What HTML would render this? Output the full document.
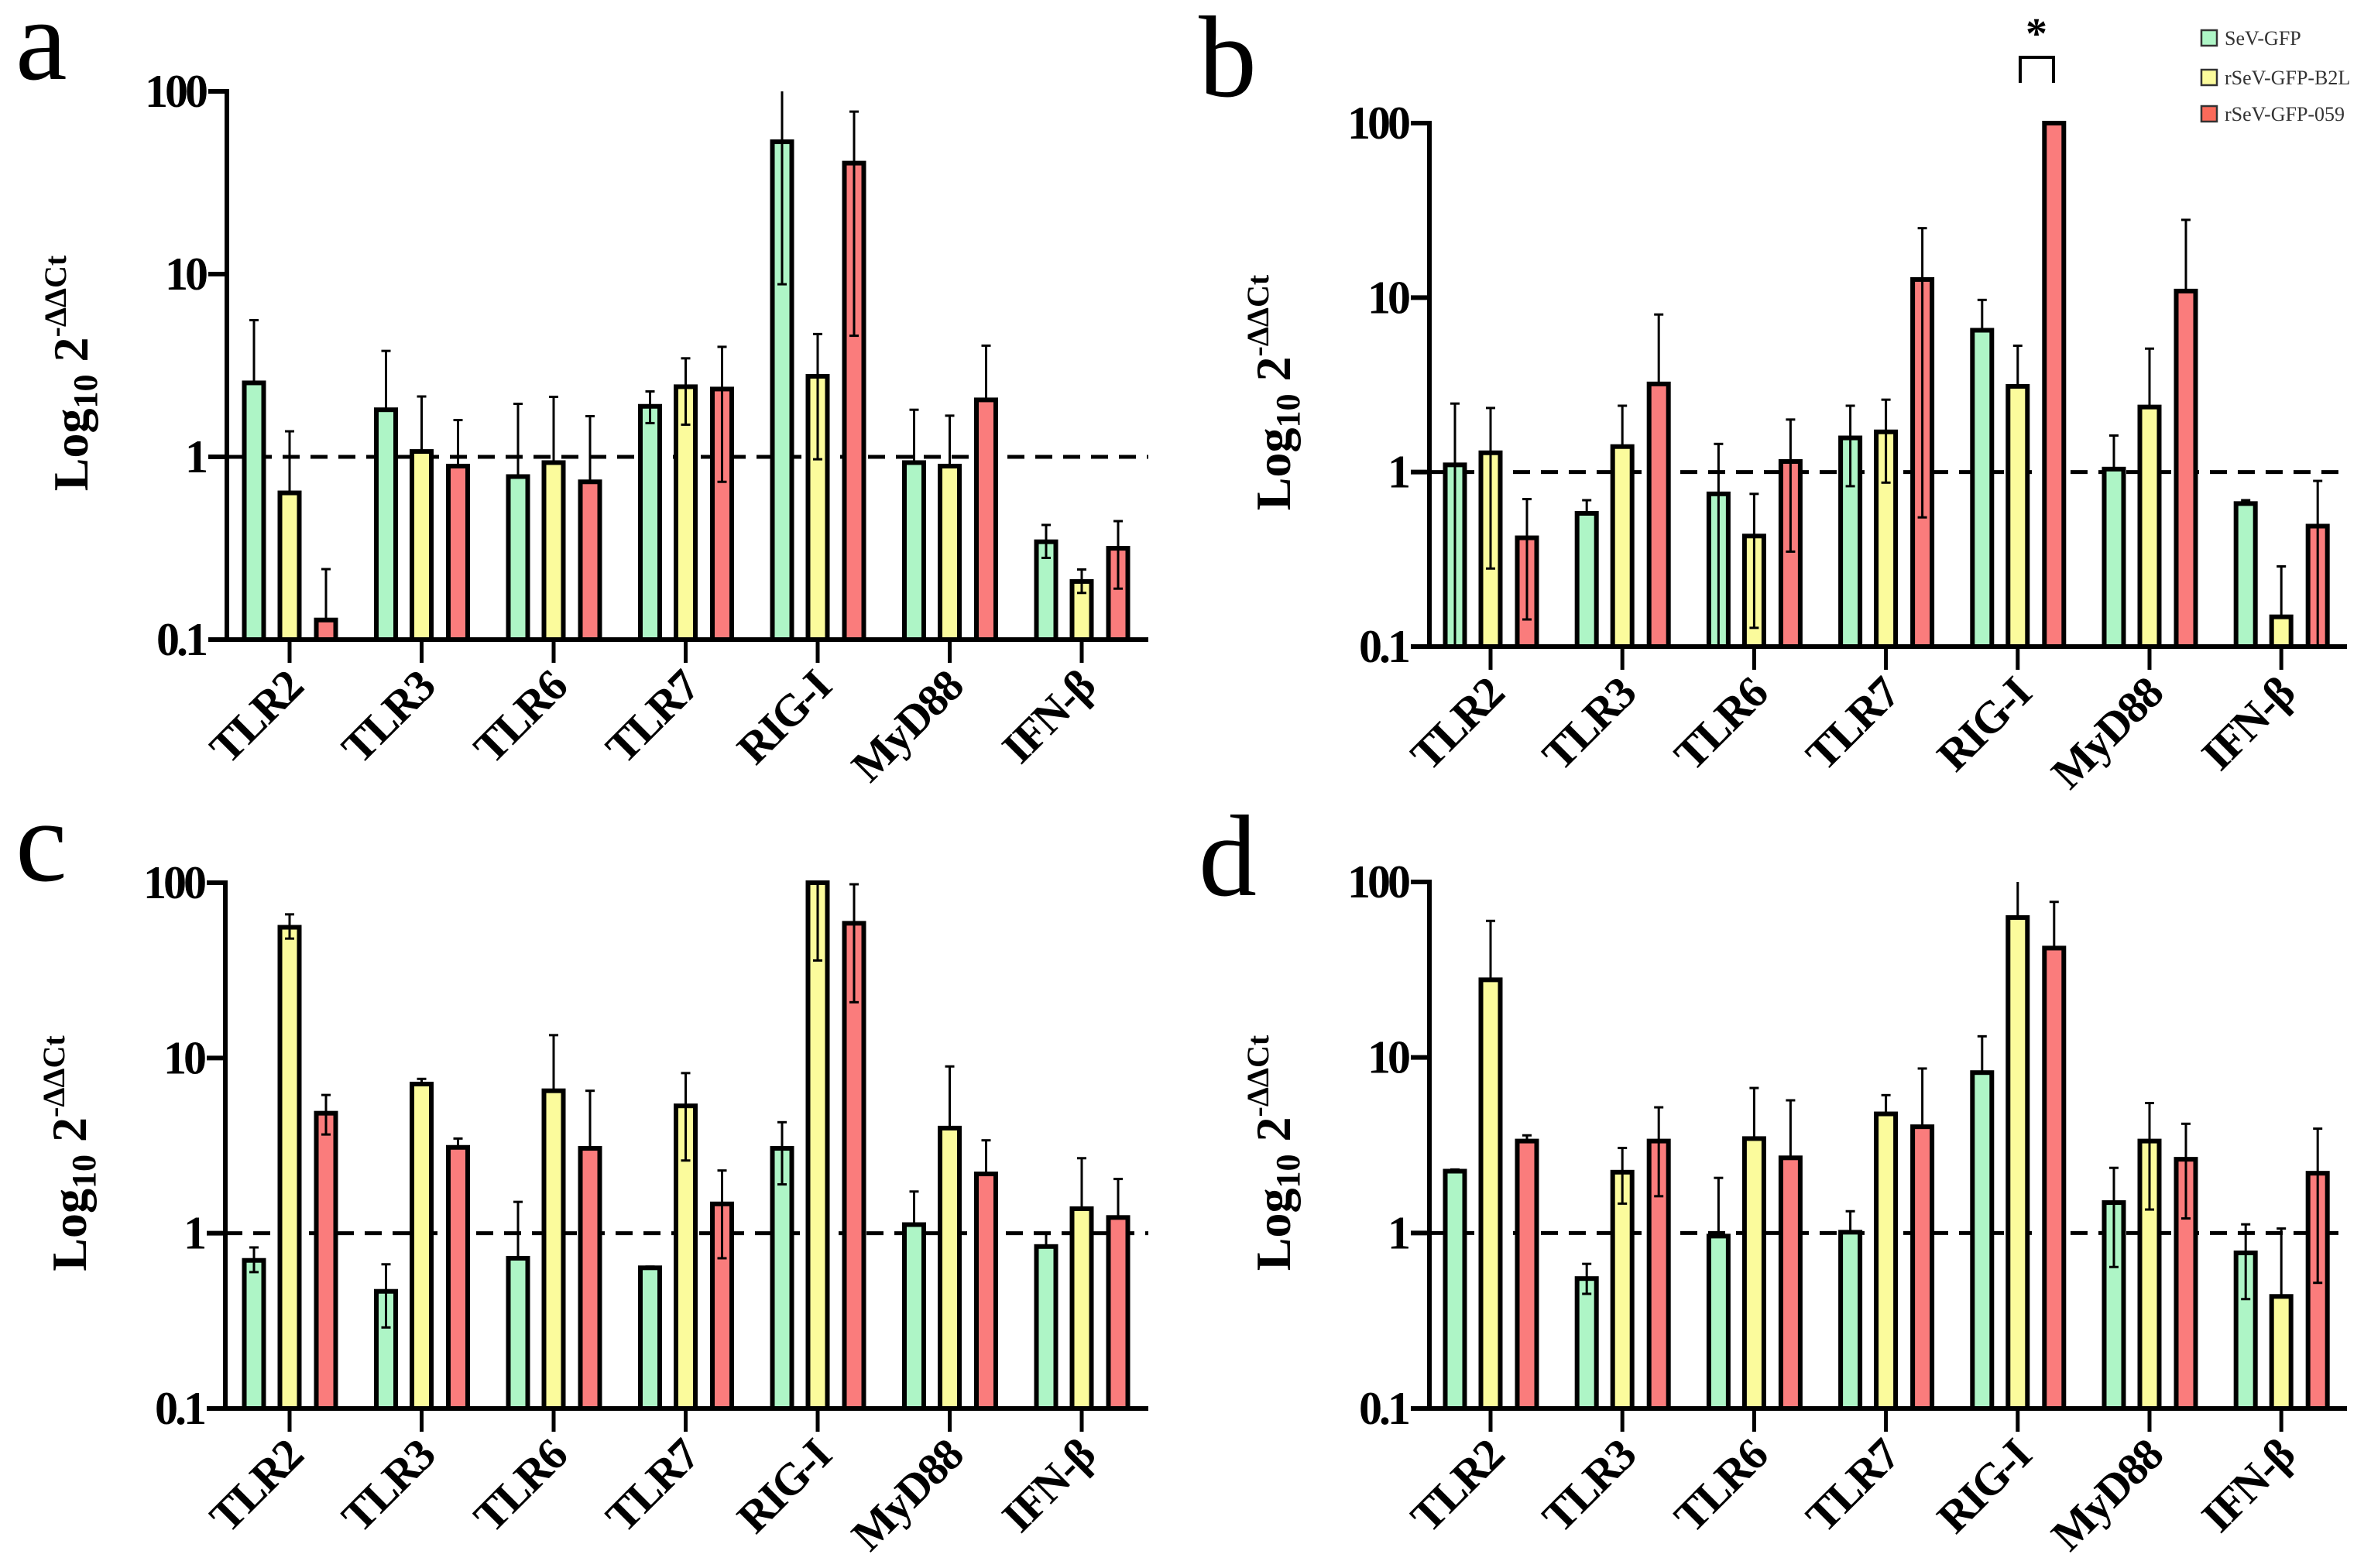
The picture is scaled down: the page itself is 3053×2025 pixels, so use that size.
<!DOCTYPE html>
<html><head><meta charset="utf-8"><style>
html,body{margin:0;padding:0;background:#fff;}
svg{display:block;}
text{font-family:"Liberation Serif","DejaVu Serif",serif;}
</style></head><body>
<svg id="fig" width="3053" height="2025" viewBox="0 0 3053 2025" xmlns="http://www.w3.org/2000/svg">
<rect x="0" y="0" width="3053" height="2025" fill="#fff"/>
<g id="legend">
  <g><rect x="2843" y="39" width="20" height="20" fill="#aef5c6" stroke="#333" stroke-width="2.5"/><text x="2873" y="58" font-size="26" fill="#333">SeV-GFP</text></g>
  <g><rect x="2843" y="90" width="20" height="20" fill="#fbfb9c" stroke="#333" stroke-width="2.5"/><text x="2873" y="109" font-size="26" fill="#333">rSeV-GFP-B2L</text></g>
  <g><rect x="2843" y="137" width="20" height="20" fill="#fa6a5a" stroke="#333" stroke-width="2.5"/><text x="2873" y="156" font-size="26" fill="#333">rSeV-GFP-059</text></g>
</g>
<g>
  <path d="M2609 107 V74 H2652 V107" fill="none" stroke="#000" stroke-width="4"/>
  <text x="2630" y="62" font-size="56" font-weight="bold" text-anchor="middle">*</text>
</g>
</svg>
<script>
const categories = ["TLR2","TLR3","TLR6","TLR7","RIG-I","MyD88","IFN-β"];
const seriesNames = ["SeV-GFP","rSeV-GFP-B2L","rSeV-GFP-059"];
const yTickValues = [0.1, 1, 10, 100];
const yTickLabels = ["0.1","1","10","100"];
const baselineValue = 1;

// Panel a (values, upper error ends, lower error ends; 0 = no lower bar)
const aGreen = [2.54, 1.81, 0.78, 1.89, 53, 0.93, 0.343];
const aGreenErr = [5.6, 3.8, 1.95, 2.28, 100, 1.81, 0.424];
const aGreenLo = [0, 0, 0, 1.53, 8.8, 0, 0.28];
const aYellow = [0.635, 1.07, 0.93, 2.42, 2.76, 0.89, 0.208];
const aYellowErr = [1.38, 2.14, 2.13, 3.46, 4.7, 1.68, 0.242];
const aYellowLo = [0, 0, 0, 1.5, 0.97, 0, 0.18];
const aRed = [0.128, 0.89, 0.73, 2.35, 40.5, 2.05, 0.316];
const aRedErr = [0.243, 1.59, 1.67, 4.0, 77.5, 4.06, 0.445];
const aRedLo = [0, 0, 0, 0.73, 4.6, 0, 0.19];
// Panel b
const bGreen = [1.10, 0.58, 0.75, 1.57, 6.5, 1.04, 0.66];
const bGreenErr = [2.47, 0.69, 1.45, 2.4, 9.7, 1.62, 0.69];
const bGreenLo = [0.1, 0, 0.1, 0.83, 0, 0, 0];
const bYellow = [1.29, 1.4, 0.43, 1.70, 3.1, 2.36, 0.148];
const bYellowErr = [2.33, 2.4, 0.75, 2.6, 5.3, 5.1, 0.288];
const bYellowLo = [0.28, 0, 0.128, 0.87, 0, 0, 0];
const bRed = [0.42, 3.2, 1.15, 12.7, 150, 10.9, 0.49];
const bRedErr = [0.70, 8.0, 2.0, 25, 150, 27.9, 0.89];
const bRedLo = [0.143, 0, 0.35, 0.55, 0, 0, 0.1];
// Panel c
const cGreen = [0.70, 0.466, 0.72, 0.635, 3.05, 1.12, 0.84];
const cGreenErr = [0.83, 0.665, 1.51, 0.645, 4.3, 1.73, 1.0];
const cGreenLo = [0.6, 0.29, 0, 0, 1.9, 0, 0];
const cYellow = [55.7, 7.1, 6.5, 5.33, 100, 3.98, 1.38];
const cYellowErr = [66, 7.6, 13.5, 8.2, 164, 8.95, 2.68];
const cYellowLo = [48, 0, 0, 2.6, 36, 0, 0];
const cRed = [4.84, 3.09, 3.05, 1.47, 58.7, 2.18, 1.23];
const cRedErr = [6.15, 3.47, 6.5, 2.28, 98, 3.39, 2.04];
const cRedLo = [3.66, 0, 0, 0.72, 20.8, 0, 0];
// Panel d
const dGreen = [2.25, 0.55, 0.96, 1.01, 8.2, 1.49, 0.77];
const dGreenErr = [2.3, 0.667, 2.06, 1.33, 13.2, 2.35, 1.12];
const dGreenLo = [0, 0.45, 0, 0, 0, 0.64, 0.42];
const dYellow = [27.7, 2.22, 3.45, 4.77, 62.7, 3.34, 0.435];
const dYellowErr = [60, 3.05, 6.7, 6.1, 100, 5.5, 1.06];
const dYellowLo = [0, 1.47, 0, 0, 0, 1.36, 0];
const dRed = [3.34, 3.34, 2.68, 4.03, 42, 2.63, 2.19];
const dRedErr = [3.6, 5.2, 5.7, 8.65, 77, 4.19, 3.93];
const dRedLo = [0, 1.62, 0, 0, 0, 1.21, 0.52];

const colors = ["#aef5c6", "#fbfb9c", "#fa7c7c"];
const NS = "http://www.w3.org/2000/svg";
const svg = document.getElementById("fig");

const panels = [
  {id:"a", lx:20, ly:102, ax:293, ar:1483, top:118, bot:826, first:81, step:170.5, vals:[aGreen,aYellow,aRed], errs:[aGreenErr,aYellowErr,aRedErr], los:[aGreenLo,aYellowLo,aRedLo]},
  {id:"b", lx:1548, ly:124, ax:1846, ar:3031, top:159, bot:835, first:79, step:170.2, vals:[bGreen,bYellow,bRed], errs:[bGreenErr,bYellowErr,bRedErr], los:[bGreenLo,bYellowLo,bRedLo]},
  {id:"c", lx:20, ly:1137, ax:291, ar:1483, top:1140, bot:1819, first:83, step:170.5, vals:[cGreen,cYellow,cRed], errs:[cGreenErr,cYellowErr,cRedErr], los:[cGreenLo,cYellowLo,cRedLo]},
  {id:"d", lx:1548, ly:1156, ax:1846, ar:3031, top:1139, bot:1819, first:79, step:170.2, vals:[dGreen,dYellow,dRed], errs:[dGreenErr,dYellowErr,dRedErr], los:[dGreenLo,dYellowLo,dRedLo]}
];

function mk(tag, attrs, parent){
  const e = document.createElementNS(NS, tag);
  for (const k in attrs) e.setAttribute(k, attrs[k]);
  parent.appendChild(e);
  return e;
}

panels.forEach(p => {
  const g = mk("g", {}, svg);
  
  
  const yScale = v => {
    const lv = Math.log10(Math.max(0.1, Math.min(100, v)));
    return p.bot - (lv + 1) / 3 * (p.bot - p.top);
  };
  const xScale = i => p.ax + p.first + i * p.step;
  const barOff = [-46, 0, 47];
  const bw = 25;

  const lt = mk("text", {x:p.lx, y:p.ly, "font-size":150}, g);
  lt.textContent = p.id;
  
  

  const yt = mk("text", {transform:"translate(" + (p.ax - 180) + "," + ((p.top + p.bot) / 2 + 10) + ") rotate(-90)", "font-size":64, "font-weight":"bold", "text-anchor":"middle"}, g);
  
  
  yt.innerHTML = 'Log<tspan font-size="44" dy="12">10</tspan><tspan dy="-12"> 2</tspan><tspan font-size="40" dy="-28">-ΔΔCt</tspan>';

  const dl = mk("line", {x1:p.ax, x2:p.ar, y1:yScale(baselineValue), y2:yScale(baselineValue), stroke:"#000", "stroke-width":5, "stroke-dasharray":"22 14"}, g);
  
  

  categories.forEach((cat, i) => {
    for (let s = 0; s < 3; s++) {
      const v = p.vals[s][i];
      const up = p.errs[s][i];
      const lo = p.los[s][i];
      const cx = xScale(i) + barOff[s];
      const yv = yScale(v);
      const r = mk("rect", {x:cx - bw/2, y:yv, width:bw, height:p.bot - yv, fill:colors[s], stroke:"#000", "stroke-width":6}, g);
      
      
      const yu = yScale(up);
      const yl = lo > 0 ? yScale(lo) : yv;
      const eg = mk("g", {stroke:"#000", "stroke-width":3}, g);
      
      
      mk("line", {x1:cx, x2:cx, y1:yu, y2:yl}, eg);
      if (up < 100) mk("line", {x1:cx - 6, x2:cx + 6, y1:yu, y2:yu}, eg);
      if (lo > 0.1) mk("line", {x1:cx - 6, x2:cx + 6, y1:yl, y2:yl}, eg);
    }
    const tk = mk("line", {x1:xScale(i), x2:xScale(i), y1:p.bot, y2:p.bot + 30, stroke:"#000", "stroke-width":5}, g);
    
    
    const tx = xScale(i) + 20, ty = p.bot + 64;
    const cl = mk("text", {x:tx, y:ty, transform:"rotate(-45 " + tx + " " + ty + ")", "font-size":58, "font-weight":"bold", "text-anchor":"end", "letter-spacing":"-2"}, g);
    cl.textContent = cat;
    
    
  });

  const ya = mk("line", {x1:p.ax, x2:p.ax, y1:p.top - 3, y2:p.bot, stroke:"#000", "stroke-width":6}, g);
  
  
  const xa = mk("line", {x1:p.ax - 24, x2:p.ar, y1:p.bot, y2:p.bot, stroke:"#000", "stroke-width":6}, g);
  
  
  yTickValues.forEach((tv, k) => {
    const y = yScale(tv);
    const t = mk("line", {x1:p.ax - 24, x2:p.ax, y1:y, y2:y, stroke:"#000", "stroke-width":6}, g);
    
    
    const tl = mk("text", {x:p.ax - 28, y:y + 20, "font-size":60, "font-weight":"bold", "text-anchor":"end", "letter-spacing":"-4"}, g);
    tl.textContent = yTickLabels[k];
    
    
  });
});
</script>
</body></html>
